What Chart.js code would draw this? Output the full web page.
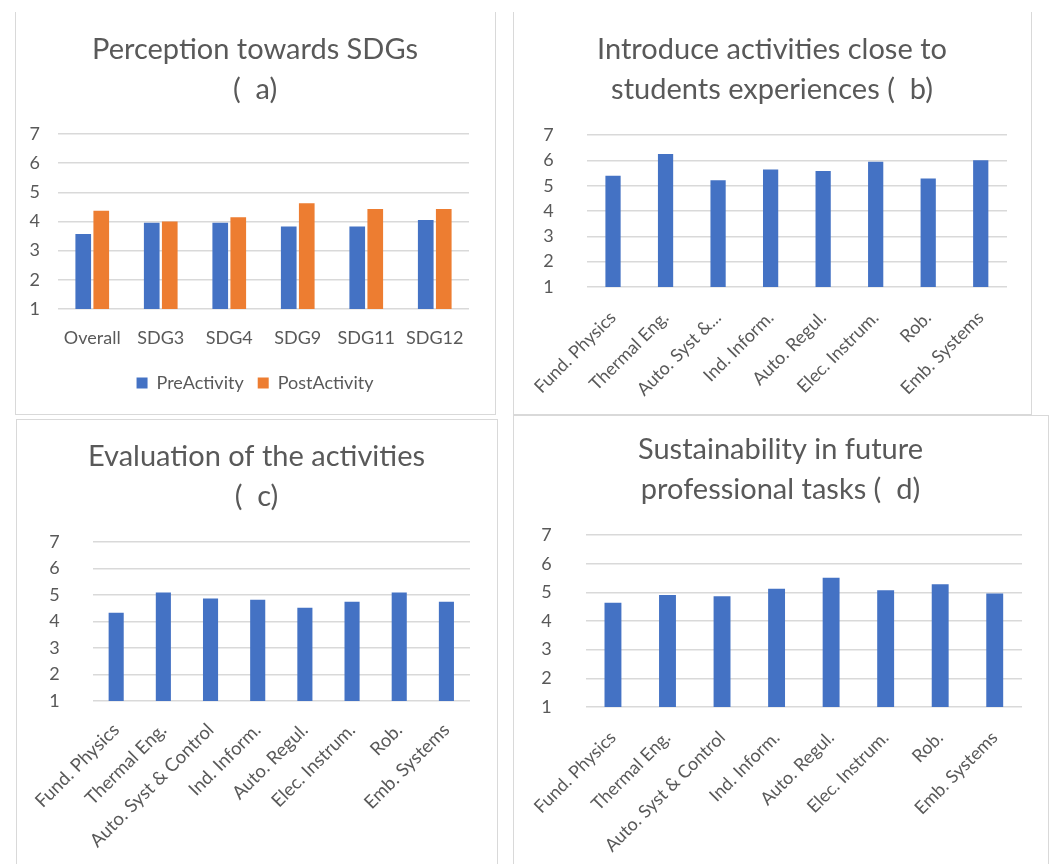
<!DOCTYPE html>
<html>
<head>
<meta charset="utf-8">
<script src="https://cdn.jsdelivr.net/npm/chart.js@4"></script>
<style>
  body { margin: 0; background: #fff; width: 1051px; height: 864px; overflow: hidden; position: relative; }
  .frame { position: absolute; border: 1px solid #d9d9d9; box-sizing: border-box; }
  canvas { position: absolute; }
</style>
</head>
<body>
<div class="frame" style="left:15px;top:12px;width:481px;height:403px;border-top:none;"></div>
<div class="frame" style="left:513px;top:12px;width:519px;height:403px;border-top:none;"></div>
<div class="frame" style="left:16px;top:419px;width:482px;height:460px;border-bottom:none;"></div>
<div class="frame" style="left:513px;top:415px;width:536px;height:460px;border-bottom:none;"></div>

<canvas id="graficoA" width="480" height="401" style="left:15px;top:13px;"></canvas>
<canvas id="graficoB" width="518" height="401" style="left:513px;top:13px;"></canvas>
<canvas id="graficoC" width="481" height="445" style="left:16px;top:419px;"></canvas>
<canvas id="graficoD" width="535" height="449" style="left:513px;top:415px;"></canvas>

<script>
// dados
const sdgLabels = ['Overall', 'SDG3', 'SDG4', 'SDG9', 'SDG11', 'SDG12'];
const preActivity = [3.57, 3.96, 3.96, 3.83, 3.83, 4.05];
const postActivity = [4.37, 4.00, 4.15, 4.63, 4.43, 4.43];

const courseLabels = ['Fund. Physics', 'Thermal Eng.', 'Auto. Syst & Control', 'Ind. Inform.',
    'Auto. Regul.', 'Elec. Instrum.', 'Rob.', 'Emb. Systems'];
const courseLabelsShort = ['Fund. Physics', 'Thermal Eng.', 'Auto. Syst &...', 'Ind. Inform.',
    'Auto. Regul.', 'Elec. Instrum.', 'Rob.', 'Emb. Systems'];

const closeToExperiences = [5.39, 6.25, 5.21, 5.64, 5.58, 5.95, 5.28, 6.00];
const evaluation = [4.33, 5.10, 4.87, 4.82, 4.52, 4.75, 5.10, 4.75];
const futureTasks = [4.64, 4.91, 4.86, 5.13, 5.51, 5.07, 5.28, 4.96];

const yMin = 1;
const yMax = 7;
const yStep = 1;

const azul = '#4472C4';
const laranja = '#ED7D31';
const cinzaTexto = '#595959';
const cinzaGrade = '#d9d9d9';
const fonte = 'Lato, "Liberation Sans", sans-serif';

// monta um gráfico de barras no estilo do Excel
function criarGrafico(id, opts) {
    const ctx = document.getElementById(id).getContext('2d');
    return new Chart(ctx, {
        type: 'bar',
        data: { labels: opts.labels, datasets: opts.datasets },
        options: {
            responsive: false,
            animation: false,
            layout: { padding: { left: 0, right: 0, top: 0, bottom: opts.padBottom } },
            datasets: { bar: { categoryPercentage: opts.catPct, barPercentage: opts.barPct } },
            plugins: {
                title: {
                    display: true,
                    text: opts.title,
                    color: cinzaTexto,
                    font: { family: fonte, size: 29, weight: 'normal', lineHeight: 1.38 },
                    padding: { top: opts.titleTop, bottom: opts.titleBottom }
                },
                legend: {
                    display: !!opts.legend,
                    position: 'bottom',
                    labels: {
                        color: cinzaTexto,
                        font: { family: fonte, size: 18 },
                        boxWidth: 11,
                        boxHeight: 11,
                        padding: 14
                    }
                },
                tooltip: { enabled: false }
            },
            scales: {
                x: {
                    grid: { display: false, drawTicks: false },
                    border: { display: false },
                    ticks: {
                        color: cinzaTexto,
                        font: { family: fonte, size: opts.xFont || 18 },
                        autoSkip: false,
                        maxRotation: opts.rotate,
                        minRotation: opts.rotate,
                        padding: opts.xPad
                    },
                    afterFit: s => {
                        const leg = s.chart.legend ? s.chart.legend.height : 0;
                        s.height = s.chart.height - opts.plotBottom - leg - opts.padBottom;
                    }
                },
                y: {
                    min: yMin,
                    max: yMax,
                    grid: { color: cinzaGrade, lineWidth: 1.5, drawTicks: false },
                    border: { display: false },
                    ticks: {
                        stepSize: yStep,
                        color: cinzaTexto,
                        font: { family: fonte, size: 18 },
                        padding: opts.yPad
                    },
                    afterFit: s => { s.width = opts.plotLeft; }
                },
                // eixo vazio à direita só para deixar a margem (título continua centrado)
                y2: {
                    type: 'linear',
                    position: 'right',
                    grid: { display: false, drawTicks: false },
                    border: { display: false },
                    ticks: { display: false },
                    afterFit: s => { s.width = opts.padRight; }
                }
            }
        }
    });
}

// Gráfico (a) - percepção dos ODS
criarGrafico('graficoA', {
    labels: sdgLabels,
    datasets: [
        { label: 'PreActivity', data: preActivity, backgroundColor: azul },
        { label: 'PostActivity', data: postActivity, backgroundColor: laranja }
    ],
    title: ['Perception towards SDGs', '(  a)'],
    titleTop: 17, titleBottom: 24,
    plotLeft: 43, padRight: 26, plotBottom: 296, padBottom: 12,
    catPct: 0.526, barPct: 0.87,
    rotate: 0, xPad: 18, yPad: 18,
    legend: true
});

// Gráfico (b)
criarGrafico('graficoB', {
    labels: courseLabelsShort,
    datasets: [{ label: 'b', data: closeToExperiences, backgroundColor: azul }],
    title: ['Introduce activities close to', 'students experiences (  b)'],
    titleTop: 17, titleBottom: 25,
    plotLeft: 73, padRight: 24, plotBottom: 274, padBottom: 0,
    catPct: 1, barPct: 0.29,
    rotate: 45, xPad: 20, yPad: 33
});

// Gráfico (c)
criarGrafico('graficoC', {
    labels: courseLabels,
    datasets: [{ label: 'c', data: evaluation, backgroundColor: azul }],
    title: ['Evaluation of the activities', '(  c)'],
    titleTop: 18, titleBottom: 25,
    plotLeft: 74, padRight: 27, plotBottom: 282, padBottom: 0,
    catPct: 1, barPct: 0.32,
    rotate: 45, xPad: 18, yPad: 33, xFont: 18.5
});

// Gráfico (d)
criarGrafico('graficoD', {
    labels: courseLabels,
    datasets: [{ label: 'd', data: futureTasks, backgroundColor: azul }],
    title: ['Sustainability in future', 'professional tasks (  d)'],
    titleTop: 15, titleBottom: 25,
    plotLeft: 72, padRight: 26, plotBottom: 292, padBottom: 0,
    catPct: 1, barPct: 0.31,
    rotate: 45, xPad: 20, yPad: 34
});
</script>
</body>
</html>
